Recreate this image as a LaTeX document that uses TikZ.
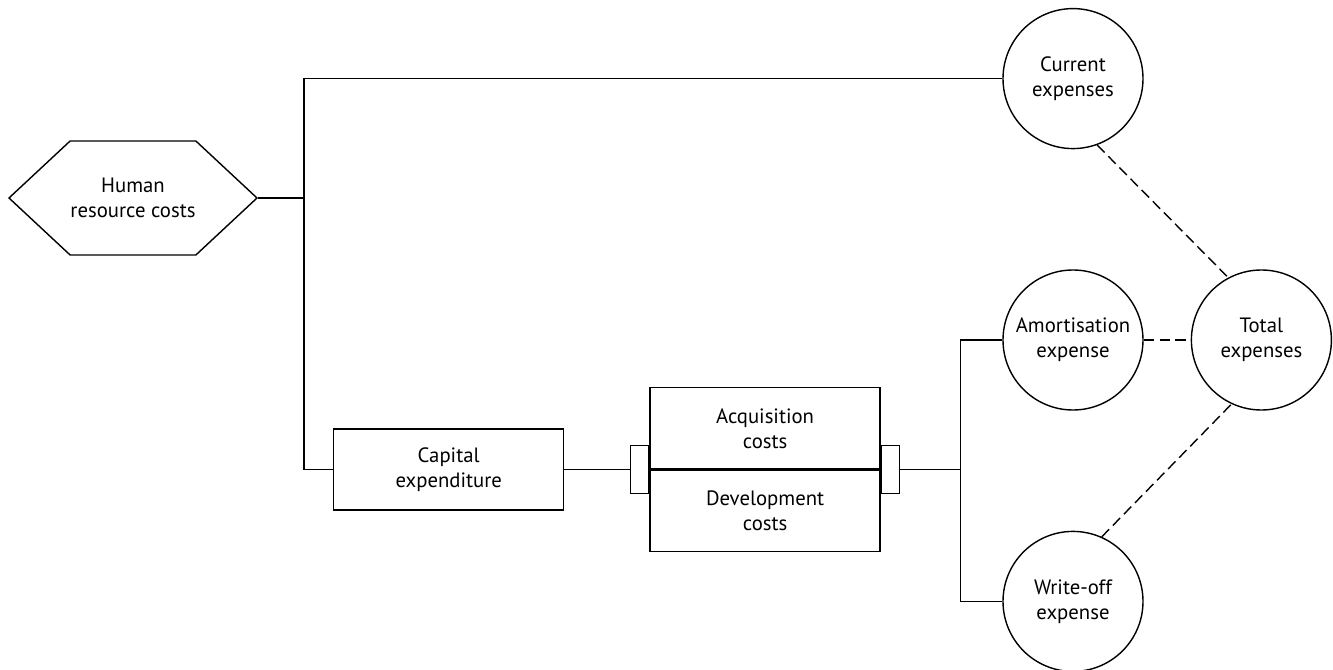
\documentclass[tikz,border=0pt]{standalone}
\usepackage{fontspec}
\setmainfont{PT Sans}
\usepackage{tikz}
\usetikzlibrary{positioning,shapes.symbols}

\begin{document}
\begin{tikzpicture}[node distance=2.4cm and 0.94cm, line width=0.8pt, font=\fontsize{11.8}{14.2}\selectfont]
  % ------- styles -------
  \tikzstyle{costhex}=[draw, signal, signal to=west and east, signal pointer angle=86, align=center, minimum width=4.96cm, minimum height=2.28cm, inner sep=0pt]
  \tikzstyle{box}=[draw, align=center, minimum width=4.6cm, minimum height=1.62cm, inner sep=0pt]
  \tikzstyle{bracket}=[draw, minimum width=0.36cm, minimum height=0.96cm, inner sep=0pt]
  \tikzstyle{expense}=[draw, circle, align=center, minimum size=2.8cm, inner sep=0pt]
  \tikzstyle{dashline}=[dash pattern=on 6pt off 3pt]

  \useasboundingbox (0,0) rectangle (26.66,-13.4);

  % ------- nodes -------
  \node[costhex] (hrc) at (2.66,-3.96) {Human\\resource costs};
  \node[box, anchor=west] (cap) at (6.66,-9.39) {Capital\\expenditure};
  \node[box, above right=0cm and 1.7cm of cap.east] (acq) {Acquisition\\costs};
  \node[box, below=0cm of acq] (dev) {Development\\costs};
  \node[bracket, left=0cm of acq.south west] (brkL) {};
  \node[bracket, right=0cm of acq.south east] (brkR) {};

  \node[expense] (amort) at (21.46,-6.8) {Amortisation\\expense};
  \node[expense, above=of amort] (cur) {Current\\expenses};
  \node[expense, below=of amort] (wo) {Write-off\\expense};
  \node[expense, right=of amort] (tot) {Total\\expenses};

  % junctions
  \coordinate[right=0.92cm of hrc.east] (jL);
  \coordinate[right=1.2cm of brkR.east] (jR);

  % ------- connectors -------
  \draw (hrc.east) -- (jL);
  \draw (cur.west) -| (jL) |- (cap.west);
  \draw (cap.east) -- (brkL.west);
  \draw (brkR.east) -- (jR);
  \draw (amort.west) -| (jR) |- (wo.west);

  % dashed links to the total
  \draw[dashline] (cur.-70) -- (tot.118);
  \draw[dashline] (amort) -- (tot);
  \draw[dashline] (wo.66) -- (tot.245);

\end{tikzpicture}
\end{document}
